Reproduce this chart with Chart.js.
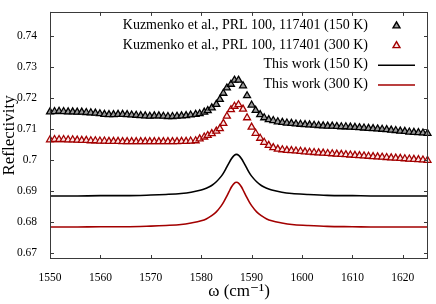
<!DOCTYPE html>
<html>
<head>
<meta charset="utf-8">
<script src="https://cdn.jsdelivr.net/npm/chart.js@4.4.1/dist/chart.umd.min.js"></script>
<style>
  html, body { margin: 0; padding: 0; background: #fff; }
  #wrap { width: 436px; height: 304px; }
</style>
</head>
<body>
<div id="wrap"><canvas id="reflChart" width="436" height="304"></canvas></div>
<script>
const wnExp = [
  1550.0, 1550.9, 1551.8, 1552.7, 1553.6, 1554.5, 1555.4, 1556.3, 1557.2, 1558.1,
  1559.0, 1559.9, 1560.8, 1561.7, 1562.6, 1563.5, 1564.4, 1565.3, 1566.2, 1567.1,
  1568.0, 1568.9, 1569.8, 1570.7, 1571.6, 1572.5, 1573.4, 1574.3, 1575.2, 1576.1,
  1577.0, 1577.9,
  1578.9, 1579.7, 1580.6, 1581.3, 1582.1, 1583.0, 1583.7, 1584.4, 1585.1, 1585.9,
  1586.6, 1587.4, 1588.3, 1589.1, 1590.0, 1590.8, 1591.7, 1592.5,
  1593.4, 1594.3, 1595.2, 1596.1, 1597.0, 1597.9, 1598.8, 1599.7, 1600.6, 1601.5,
  1602.4, 1603.3, 1604.2, 1605.1, 1606.0, 1606.9, 1607.8, 1608.7, 1609.6, 1610.5,
  1611.4, 1612.3, 1613.2, 1614.1, 1615.0, 1615.9, 1616.8, 1617.7, 1618.6, 1619.5,
  1620.4, 1621.3, 1622.2, 1623.1, 1624.0, 1624.9
];

// Kuzmenko et al., 150 K
const kuz150 = [
  0.7156, 0.7157, 0.7158, 0.7157, 0.7156, 0.7156, 0.7155, 0.7155, 0.7154, 0.7153,
  0.7152, 0.7150, 0.7148, 0.7147, 0.7147, 0.7148, 0.7148, 0.7147, 0.7146, 0.7145,
  0.7144, 0.7143, 0.7142, 0.7143, 0.7143, 0.7142, 0.7141, 0.7141, 0.7142, 0.7143,
  0.7144, 0.7146,
  0.7148, 0.7150, 0.7155, 0.7160, 0.7169, 0.7180, 0.7196, 0.7216, 0.7233, 0.7245,
  0.7258, 0.7258, 0.7240, 0.7208, 0.7178, 0.7161, 0.7147, 0.7137,
  0.7131, 0.7128, 0.7124, 0.7122, 0.7120, 0.7119, 0.7117, 0.7116, 0.7115, 0.7114,
  0.7113, 0.7112, 0.7111, 0.7110, 0.7110, 0.7109, 0.7108, 0.7108, 0.7107, 0.7106,
  0.7105, 0.7104, 0.7103, 0.7102, 0.7101, 0.7100, 0.7099, 0.7097, 0.7096, 0.7094,
  0.7093, 0.7091, 0.7090, 0.7089, 0.7088, 0.7087
];

// Kuzmenko et al., 300 K
const kuz300 = [
  0.7066, 0.7067, 0.7067, 0.7067, 0.7066, 0.7066, 0.7065, 0.7064, 0.7064, 0.7063,
  0.7063, 0.7062, 0.7062, 0.7061, 0.7061, 0.7061, 0.7060, 0.7060, 0.7060, 0.7060,
  0.7060, 0.7060, 0.7060, 0.7060, 0.7060, 0.7060, 0.7060, 0.7060, 0.7060, 0.7061,
  0.7061, 0.7062,
  0.7063, 0.7069, 0.7075, 0.7080, 0.7086, 0.7094, 0.7102, 0.7119, 0.7142, 0.7163,
  0.7174, 0.7179, 0.7165, 0.7137, 0.7107, 0.7087, 0.7071, 0.7058,
  0.7048, 0.7041, 0.7036, 0.7034, 0.7032, 0.7031, 0.7030, 0.7029, 0.7027, 0.7026,
  0.7025, 0.7024, 0.7023, 0.7022, 0.7021, 0.7020, 0.7019, 0.7018, 0.7017, 0.7016,
  0.7015, 0.7014, 0.7013, 0.7012, 0.7011, 0.7010, 0.7009, 0.7008, 0.7007, 0.7006,
  0.7005, 0.7004, 0.7003, 0.7002, 0.7001, 0.7000
];

// wavenumbers of the computed curves
const wnCalc = [
  1550, 1555, 1560, 1565, 1570, 1573, 1576, 1578, 1580, 1581, 1582, 1583, 1584,
  1584.5, 1585, 1585.5, 1586, 1586.5, 1587, 1587.5, 1588, 1588.5, 1589, 1589.5,
  1590, 1591, 1592, 1593, 1594, 1596, 1598, 1601, 1605, 1610, 1615, 1620, 1625
];

// This work, 150 K
const calc150 = [
  0.6885, 0.6885, 0.6886, 0.6886, 0.6888, 0.6890, 0.6893, 0.6897, 0.6904, 0.6910,
  0.6918, 0.6931, 0.6949, 0.6961, 0.6976, 0.6991, 0.7005, 0.7015, 0.7019, 0.7015,
  0.7005, 0.6991, 0.6976, 0.6961, 0.6949, 0.6931, 0.6918, 0.6910, 0.6904, 0.6897,
  0.6893, 0.6890, 0.6887, 0.6886, 0.6885, 0.6885, 0.6885
];

// This work, 300 K
const calc300 = [
  0.6785, 0.6785, 0.6786, 0.6786, 0.6788, 0.6790, 0.6793, 0.6798, 0.6805, 0.6811,
  0.6821, 0.6834, 0.6854, 0.6867, 0.6882, 0.6898, 0.6914, 0.6925, 0.6929, 0.6925,
  0.6914, 0.6898, 0.6882, 0.6867, 0.6854, 0.6834, 0.6821, 0.6811, 0.6805, 0.6798,
  0.6793, 0.6790, 0.6787, 0.6786, 0.6785, 0.6785, 0.6785
];

const xTicks = [1550, 1560, 1570, 1580, 1590, 1600, 1610, 1620];
const yTicks = [0.67, 0.68, 0.69, 0.70, 0.71, 0.72, 0.73, 0.74];

const legendLabels = [
  "Kuzmenko et al., PRL 100, 117401 (150 K)",
  "Kuzmenko et al., PRL 100, 117401 (300 K)",
  "This work (150 K)",
  "This work (300 K)"
];

const RED = "#a30000";
const SERIF = "'Liberation Serif', 'DejaVu Serif', serif";

function pairs(xs, ys) {
    return xs.map((x, i) => ({ x: x, y: ys[i] }));
}

function triangle(ctx, x, y, r) {
    ctx.beginPath();
    ctx.moveTo(x, y - r);
    ctx.lineTo(x + r * 0.866, y + r * 0.5);
    ctx.lineTo(x - r * 0.866, y + r * 0.5);
    ctx.closePath();
}

// gnuplot-like frame: box, inward ticks on all sides, legend in the top right
const framePlugin = {
    id: "frame",
    afterDraw(chart) {
        const ctx = chart.ctx;
        const a = chart.chartArea;
        const xs = chart.scales.x;
        const ys = chart.scales.y;
        ctx.save();
        ctx.strokeStyle = "#3a3a3a";
        ctx.lineWidth = 1;
        ctx.strokeRect(Math.round(a.left) + 0.5, Math.round(a.top) + 0.5,
                       Math.round(a.width) - 1, Math.round(a.height) - 1);
        ctx.beginPath();
        xTicks.forEach(v => {
            const px = Math.round(xs.getPixelForValue(v)) + 0.5;
            ctx.moveTo(px, a.bottom); ctx.lineTo(px, a.bottom - 4);
            ctx.moveTo(px, a.top); ctx.lineTo(px, a.top + 4);
        });
        yTicks.forEach(v => {
            const py = Math.round(ys.getPixelForValue(v)) + 0.5;
            ctx.moveTo(a.left, py); ctx.lineTo(a.left + 4, py);
            ctx.moveTo(a.right, py); ctx.lineTo(a.right - 4, py);
        });
        ctx.stroke();

        // legend
        ctx.font = "14px " + SERIF;
        ctx.fillStyle = "#000";
        ctx.textAlign = "right";
        ctx.textBaseline = "middle";
        const textRight = a.right - 60;
        const sampleL = a.right - 50;
        const sampleR = a.right - 13;
        const mid = (sampleL + sampleR) / 2;
        legendLabels.forEach((label, i) => {
            const yy = a.top + 13.5 + i * 19.7;
            ctx.fillText(label, textRight, yy);
            if (i < 2) {
                triangle(ctx, mid, yy + 0.5, 4);
                ctx.fillStyle = i === 0 ? "#9a9a9a" : "#fbe6e6";
                ctx.fill();
                ctx.lineWidth = 1.4;
                ctx.strokeStyle = i === 0 ? "#000" : RED;
                ctx.stroke();
                ctx.fillStyle = "#000";
            } else {
                ctx.beginPath();
                ctx.moveTo(sampleL, yy + 0.5);
                ctx.lineTo(sampleR, yy + 0.5);
                ctx.lineWidth = 1.6;
                ctx.strokeStyle = i === 2 ? "#000" : RED;
                ctx.stroke();
            }
        });
        ctx.restore();
    }
};

const ctx = document.getElementById("reflChart").getContext("2d");
new Chart(ctx, {
    type: "scatter",
    data: {
        datasets: [
            {
                label: legendLabels[0],
                data: pairs(wnExp, kuz150),
                pointStyle: "triangle",
                pointRadius: 4,
                borderColor: "#000",
                backgroundColor: "#9a9a9a",
                borderWidth: 1.3,
                clip: false
            },
            {
                label: legendLabels[1],
                data: pairs(wnExp, kuz300),
                pointStyle: "triangle",
                pointRadius: 4,
                borderColor: RED,
                backgroundColor: "#fbe6e6",
                borderWidth: 1.3,
                clip: false
            },
            {
                label: legendLabels[2],
                data: pairs(wnCalc, calc150),
                showLine: true,
                pointRadius: 0,
                borderColor: "#000",
                borderWidth: 1.6,
                cubicInterpolationMode: "monotone"
            },
            {
                label: legendLabels[3],
                data: pairs(wnCalc, calc300),
                showLine: true,
                pointRadius: 0,
                borderColor: RED,
                borderWidth: 1.6,
                cubicInterpolationMode: "monotone"
            }
        ]
    },
    options: {
        responsive: false,
        animation: false,
        layout: { padding: { top: 7, right: 8, left: 0, bottom: 0 } },
        scales: {
            x: {
                type: "linear",
                min: 1550,
                max: 1625,
                grid: { display: false },
                border: { display: false },
                afterBuildTicks: s => { s.ticks = xTicks.map(v => ({ value: v })); },
                afterFit: s => { s.height = 45; },
                ticks: {
                    color: "#000",
                    padding: 4,
                    maxRotation: 0,
                    font: { family: SERIF, size: 11.5 },
                    callback: v => String(v)
                },
                title: {
                    display: true,
                    text: "ω (cm⁻¹)",
                    color: "#000",
                    font: { family: SERIF, size: 17 },
                    padding: { top: 0, bottom: 2 }
                }
            },
            y: {
                min: 0.6682,
                max: 0.7478,
                grid: { display: false },
                border: { display: false },
                afterBuildTicks: s => { s.ticks = yTicks.map(v => ({ value: v })); },
                afterFit: s => { s.width = 50; },
                ticks: {
                    color: "#000",
                    padding: 5,
                    font: { family: SERIF, size: 11.5 },
                    callback: v => String(+v.toFixed(2))
                },
                title: {
                    display: true,
                    text: "Reflectivity",
                    color: "#000",
                    font: { family: SERIF, size: 17, lineHeight: 1 },
                    padding: { top: 1, bottom: 0 }
                }
            }
        },
        plugins: {
            legend: { display: false },
            tooltip: { enabled: false }
        }
    },
    plugins: [framePlugin]
});
</script>
</body>
</html>
